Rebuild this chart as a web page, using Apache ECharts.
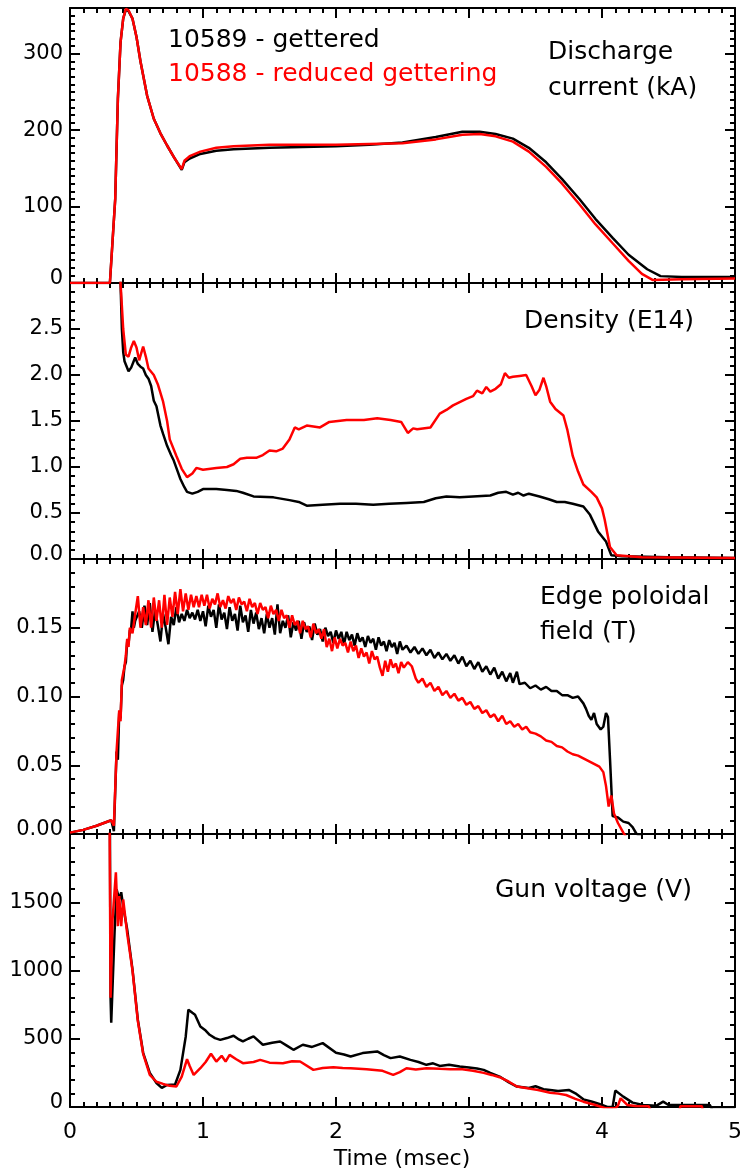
<!DOCTYPE html>
<html><head><meta charset="utf-8">
<script src="https://cdn.jsdelivr.net/npm/echarts@6.0.0/dist/echarts.min.js"></script>
<style>html,body{margin:0;padding:0;background:#fff}#c{width:740px;height:1172px}</style>
</head><body><div id="c"></div>
<script>
// ---- x axis (Time, msec) ----
const timeTicks = [0, 1, 2, 3, 4, 5];

// ---- Panel 1: Discharge current (kA) ----
const currentBlack = [[0,0],[0.30,0],[0.32,55],[0.34,110],[0.36,241],[0.38,315],[0.40,346],[0.42,358],[0.44,356],[0.47,346],[0.50,322],[0.53,290],[0.58,245],[0.63,215],[0.68,196],[0.73,180],[0.78,165],[0.84,148],[0.86,158],[0.90,163],[0.98,169],[1.10,173],[1.23,175],[1.5,177],[1.75,178],[2.0,179],[2.25,181],[2.5,184],[2.75,191],[2.95,198],[3.08,198],[3.2,195],[3.33,189],[3.45,177],[3.58,158],[3.7,136],[3.83,110],[3.95,84],[4.08,59],[4.2,37],[4.34,18],[4.44,9],[4.6,8],[5.0,8]];
const currentRed = [[0,0],[0.30,0],[0.32,55],[0.34,110],[0.36,241],[0.38,315],[0.40,346],[0.42,359],[0.44,357],[0.47,346],[0.50,322],[0.53,290],[0.58,245],[0.63,215],[0.68,196],[0.73,180],[0.78,165],[0.84,149],[0.86,160],[0.90,166],[0.98,172],[1.10,177],[1.23,179],[1.5,181],[1.75,181],[2.0,181],[2.25,182],[2.5,183],[2.75,188],[2.95,194],[3.08,195],[3.2,192],[3.33,185],[3.45,172],[3.58,152],[3.7,130],[3.83,103],[3.95,77],[4.08,52],[4.2,29],[4.3,12],[4.38,4],[4.6,5],[5.0,6]];

// ---- Panel 2: Density (E14) ----
const densityBlack = [[0.37,4],[0.38,3.0],[0.39,2.5],[0.40,2.25],[0.41,2.15],[0.44,2.04],[0.46,2.08],[0.49,2.19],[0.51,2.12],[0.53,2.09],[0.55,2.07],[0.57,2.0],[0.59,1.96],[0.61,1.88],[0.63,1.72],[0.65,1.66],[0.68,1.45],[0.70,1.36],[0.73,1.23],[0.76,1.13],[0.78,1.07],[0.81,0.95],[0.83,0.87],[0.86,0.78],[0.88,0.73],[0.92,0.71],[0.96,0.73],[1.0,0.76],[1.1,0.76],[1.18,0.75],[1.25,0.74],[1.30,0.72],[1.38,0.68],[1.53,0.67],[1.65,0.64],[1.72,0.62],[1.78,0.58],[1.9,0.59],[2.03,0.60],[2.15,0.60],[2.28,0.59],[2.4,0.60],[2.53,0.61],[2.66,0.62],[2.75,0.66],[2.83,0.68],[2.93,0.67],[3.03,0.68],[3.16,0.69],[3.22,0.72],[3.28,0.73],[3.33,0.70],[3.37,0.72],[3.41,0.69],[3.45,0.71],[3.53,0.68],[3.60,0.65],[3.66,0.62],[3.72,0.62],[3.78,0.60],[3.86,0.57],[3.91,0.48],[3.97,0.30],[4.03,0.19],[4.07,0.04],[4.15,0.03],[4.5,0.02],[5.0,0.01]];
const densityRed = [[0.37,4],[0.38,3.0],[0.40,2.5],[0.42,2.22],[0.44,2.2],[0.46,2.3],[0.48,2.37],[0.50,2.3],[0.52,2.16],[0.55,2.31],[0.57,2.2],[0.59,2.07],[0.63,2.0],[0.66,1.9],[0.70,1.71],[0.73,1.5],[0.75,1.30],[0.80,1.12],[0.84,0.98],[0.88,0.89],[0.92,0.93],[0.95,0.99],[1.0,0.97],[1.1,0.99],[1.18,1.0],[1.23,1.03],[1.28,1.09],[1.33,1.10],[1.40,1.10],[1.45,1.13],[1.50,1.18],[1.55,1.17],[1.60,1.20],[1.65,1.30],[1.69,1.43],[1.72,1.41],[1.78,1.45],[1.88,1.43],[1.95,1.49],[2.08,1.51],[2.21,1.51],[2.31,1.53],[2.41,1.51],[2.49,1.49],[2.54,1.37],[2.58,1.42],[2.61,1.41],[2.71,1.43],[2.78,1.58],[2.83,1.62],[2.88,1.67],[2.98,1.74],[3.03,1.77],[3.06,1.83],[3.10,1.80],[3.13,1.87],[3.16,1.82],[3.20,1.85],[3.24,1.90],[3.27,2.02],[3.30,1.97],[3.33,1.98],[3.38,1.99],[3.43,2.0],[3.47,1.88],[3.50,1.78],[3.53,1.84],[3.56,1.97],[3.58,1.88],[3.61,1.71],[3.65,1.63],[3.71,1.56],[3.74,1.40],[3.78,1.12],[3.82,0.95],[3.86,0.81],[3.92,0.73],[3.96,0.67],[4.0,0.55],[4.02,0.43],[4.06,0.13],[4.11,0.04],[4.3,0.02],[5.0,0.01]];

// ---- Panel 3: Edge poloidal field (T) ----
const fieldBlack = [[0,0.001],[0.1,0.003],[0.2,0.006],[0.31,0.010],[0.33,0.002],[0.35,0.060],[0.36,0.054],[0.37,0.088],[0.38,0.084],[0.39,0.108],[0.40,0.112],[0.41,0.122],[0.42,0.125],[0.43,0.140],[0.44,0.138],[0.45,0.148],[0.46,0.150],[0.47,0.162],[0.48,0.150],[0.49,0.155],
[0.50,0.155],[0.52,0.162],[0.54,0.150],[0.56,0.166],[0.58,0.152],[0.60,0.168],[0.62,0.147],[0.64,0.163],[0.66,0.152],[0.68,0.140],[0.70,0.160],[0.72,0.150],[0.74,0.138],[0.76,0.158],[0.78,0.152],[0.80,0.165],[0.82,0.154],[0.84,0.160],[0.86,0.155],[0.88,0.163],[0.90,0.157],[0.92,0.161],[0.94,0.156],[0.96,0.163],[0.98,0.155],
[1.00,0.162],[1.02,0.151],[1.04,0.166],[1.06,0.158],[1.08,0.163],[1.10,0.150],[1.12,0.167],[1.14,0.156],[1.16,0.161],[1.18,0.149],[1.20,0.165],[1.22,0.155],[1.24,0.160],[1.26,0.148],[1.28,0.166],[1.30,0.154],[1.32,0.159],[1.34,0.147],[1.36,0.163],[1.38,0.153],[1.40,0.161],[1.42,0.149],[1.44,0.157],[1.46,0.146],[1.48,0.160],[1.50,0.150],[1.52,0.157],[1.54,0.145],[1.56,0.167],[1.58,0.146],[1.60,0.155],[1.62,0.150],[1.64,0.159],[1.66,0.143],[1.68,0.154],[1.70,0.148],[1.72,0.155],[1.74,0.142],[1.76,0.154],[1.78,0.147],[1.80,0.151],[1.82,0.141],[1.84,0.153],[1.86,0.145],[1.88,0.149],[1.90,0.140],[1.92,0.150],[1.94,0.144],[1.96,0.147],[1.98,0.139],
[2.00,0.148],[2.02,0.142],[2.04,0.147],[2.06,0.138],[2.08,0.147],[2.10,0.141],[2.12,0.145],[2.14,0.137],[2.16,0.146],[2.18,0.140],[2.20,0.143],[2.22,0.136],[2.24,0.144],[2.26,0.139],[2.28,0.142],[2.30,0.134],[2.32,0.143],[2.34,0.137],[2.36,0.140],[2.38,0.133],[2.40,0.141],[2.42,0.136],[2.44,0.139],[2.46,0.131],[2.48,0.140],[2.50,0.134],
[2.53,0.137],[2.56,0.132],[2.59,0.136],[2.62,0.131],[2.65,0.135],[2.68,0.130],[2.71,0.134],[2.74,0.128],[2.77,0.132],[2.80,0.127],[2.83,0.131],[2.86,0.126],[2.89,0.130],[2.92,0.124],[2.95,0.129],[2.98,0.122],[3.01,0.126],[3.04,0.120],[3.07,0.125],[3.10,0.118],[3.13,0.122],[3.16,0.116],[3.19,0.121],[3.22,0.113],[3.25,0.118],[3.28,0.111],[3.31,0.117],[3.33,0.110],[3.36,0.118],[3.38,0.109],[3.42,0.110],[3.46,0.106],[3.50,0.108],[3.54,0.105],[3.58,0.107],[3.62,0.104],[3.66,0.104],[3.70,0.101],[3.74,0.101],[3.78,0.099],[3.82,0.100],[3.86,0.095],[3.88,0.091],[3.90,0.086],[3.92,0.083],[3.94,0.088],[3.96,0.080],[3.99,0.076],[4.01,0.078],[4.03,0.088],[4.045,0.085],[4.06,0.055],[4.08,0.013],[4.12,0.012],[4.16,0.009],[4.20,0.008],[4.23,0.005],[4.26,0.0],[4.30,-0.002]];
const fieldRed = [[0,0.001],[0.1,0.003],[0.2,0.006],[0.31,0.010],[0.33,0.006],[0.35,0.060],[0.37,0.090],[0.38,0.082],[0.39,0.112],[0.41,0.122],[0.42,0.130],[0.43,0.142],[0.44,0.136],[0.45,0.150],[0.47,0.146],[0.49,0.160],[0.51,0.173],[0.53,0.150],[0.55,0.165],[0.57,0.152],[0.59,0.170],[0.61,0.150],[0.63,0.172],[0.65,0.155],[0.67,0.170],[0.69,0.150],[0.71,0.174],[0.73,0.152],[0.75,0.172],[0.77,0.158],[0.79,0.176],[0.81,0.160],[0.83,0.178],[0.85,0.162],[0.87,0.175],[0.89,0.163],[0.91,0.174],[0.93,0.165],[0.95,0.173],[0.97,0.165],[0.99,0.174],
[1.01,0.166],[1.03,0.174],[1.05,0.164],[1.07,0.171],[1.09,0.167],[1.11,0.175],[1.13,0.165],[1.15,0.170],[1.17,0.164],[1.19,0.173],[1.21,0.168],[1.23,0.171],[1.25,0.163],[1.27,0.172],[1.29,0.167],[1.31,0.169],[1.33,0.162],[1.35,0.171],[1.37,0.165],[1.39,0.168],[1.41,0.160],[1.43,0.168],[1.45,0.163],[1.47,0.165],[1.49,0.157],[1.51,0.166],[1.53,0.160],[1.55,0.163],[1.57,0.155],[1.59,0.163],[1.61,0.157],[1.63,0.159],[1.65,0.150],[1.67,0.159],[1.69,0.152],[1.71,0.155],[1.73,0.146],[1.75,0.155],[1.77,0.149],[1.79,0.151],[1.81,0.143],[1.83,0.153],[1.85,0.146],[1.87,0.149],[1.89,0.142],[1.91,0.149],[1.93,0.136],[1.95,0.142],[1.97,0.133],[1.99,0.143],
[2.01,0.135],[2.03,0.142],[2.05,0.137],[2.07,0.139],[2.09,0.132],[2.11,0.140],[2.13,0.133],[2.15,0.137],[2.17,0.128],[2.19,0.135],[2.21,0.129],[2.23,0.132],[2.25,0.124],[2.27,0.133],[2.29,0.127],[2.31,0.129],[2.33,0.121],[2.35,0.115],[2.37,0.126],[2.39,0.118],[2.41,0.127],[2.43,0.121],[2.45,0.124],[2.47,0.117],[2.49,0.125],
[2.51,0.121],[2.54,0.125],[2.57,0.122],[2.60,0.113],[2.62,0.110],[2.65,0.113],[2.68,0.107],[2.71,0.110],[2.74,0.104],[2.77,0.107],[2.80,0.101],[2.83,0.104],[2.86,0.099],[2.89,0.102],[2.92,0.097],[2.95,0.099],[2.98,0.094],
[3.01,0.096],[3.04,0.091],[3.07,0.093],[3.10,0.088],[3.13,0.090],[3.16,0.085],[3.19,0.087],[3.22,0.082],[3.25,0.086],[3.28,0.080],[3.31,0.082],[3.34,0.078],[3.37,0.080],[3.40,0.076],[3.43,0.078],[3.46,0.074],[3.50,0.073],[3.54,0.071],[3.58,0.068],[3.62,0.067],[3.66,0.064],[3.70,0.063],[3.74,0.060],[3.78,0.058],[3.82,0.057],[3.86,0.055],[3.90,0.053],[3.94,0.051],[3.98,0.049],[4.01,0.045],[4.03,0.035],[4.05,0.020],[4.07,0.028],[4.09,0.015],[4.12,0.008],[4.16,0.001],[4.18,-0.002]];

// ---- Panel 4: Gun voltage (V) ----
const voltageBlack = [[0.300,2100],[0.305,800],[0.31,617],[0.335,1279],[0.35,1595],[0.36,1560],[0.37,1521],[0.385,1573],[0.40,1470],[0.43,1301],[0.47,1007],[0.51,640],[0.55,397],[0.60,250],[0.65,176],[0.69,140],[0.73,162],[0.79,165],[0.83,272],[0.87,515],[0.89,713],[0.92,690],[0.94,676],[0.98,590],[1.02,560],[1.05,529],[1.09,505],[1.13,492],[1.18,505],[1.23,522],[1.27,495],[1.30,480],[1.34,500],[1.38,517],[1.45,456],[1.52,470],[1.58,480],[1.63,450],[1.68,419],[1.75,456],[1.82,440],[1.90,468],[2.0,397],[2.06,385],[2.11,370],[2.2,395],[2.31,407],[2.36,380],[2.41,358],[2.48,370],[2.56,345],[2.62,330],[2.68,309],[2.73,320],[2.78,301],[2.85,310],[2.93,296],[3.0,290],[3.06,282],[3.11,272],[3.16,250],[3.23,223],[3.3,180],[3.36,150],[3.45,140],[3.50,152],[3.56,130],[3.61,125],[3.67,118],[3.75,125],[3.80,100],[3.86,56],[3.92,40],[3.98,22],[4.04,0],[4.08,0],[4.10,120],[4.16,76],[4.23,32],[4.31,15],[4.41,10],[4.46,39],[4.50,15],[4.81,15],[4.83,-20],[5.0,-20]];
const voltageRed = [[0.298,2100],[0.305,800],[0.32,1374],[0.345,1720],[0.36,1325],[0.37,1545],[0.385,1325],[0.40,1520],[0.43,1270],[0.47,1000],[0.51,630],[0.55,390],[0.60,235],[0.65,185],[0.70,169],[0.75,155],[0.80,150],[0.84,223],[0.88,350],[0.90,300],[0.93,235],[0.98,284],[1.02,330],[1.06,390],[1.10,333],[1.14,375],[1.17,333],[1.20,382],[1.25,350],[1.30,321],[1.38,330],[1.43,345],[1.5,325],[1.6,321],[1.67,335],[1.73,333],[1.83,272],[1.9,285],[1.98,292],[2.05,285],[2.11,284],[2.23,277],[2.35,265],[2.43,235],[2.48,255],[2.53,284],[2.6,275],[2.68,284],[2.78,280],[2.86,277],[2.95,277],[3.03,265],[3.11,250],[3.17,235],[3.23,218],[3.3,185],[3.36,150],[3.45,135],[3.52,125],[3.61,105],[3.67,98],[3.73,88],[3.8,60],[3.86,39],[3.95,15],[4.03,-10],[4.10,-10],[4.12,10],[4.14,64],[4.19,15],[4.25,8],[4.35,6],[4.37,-30],[4.58,-30],[4.59,6],[4.75,6],[4.76,-30],[5.0,-30]];

// ---- y axis setup per panel: [min, max, interval, minor splits, decimals] ----
const yScales = [[0, 360, 100, 10, 0], [0, 3, 0.5, 5, 1], [0, 0.2, 0.05, 5, 2], [0, 2000, 500, 5, 0]];
const panelSeries = [[currentBlack, currentRed], [densityBlack, densityRed], [fieldBlack, fieldRed], [voltageBlack, voltageRed]];
const legendTexts = ['10589 - gettered', '10588 - reduced gettering'];

const FONT = 'DejaVu Sans';
const gridBoxes = [{top: 8, height: 275}, {top: 283, height: 276}, {top: 559, height: 275}, {top: 834, height: 273}];

const grid = [], xAxis = [], yAxis = [], series = [];
gridBoxes.forEach((g, i) => {
  grid.push({left: 70, right: 5, top: g.top, height: g.height, outerBoundsMode: 'none', containLabel: false});
  const axisCommon = {
    axisLine: {show: true, onZero: false, lineStyle: {color: '#000', width: 2}},
    axisTick: {show: true, inside: true, length: 10, lineStyle: {color: '#000', width: 2}},
    splitLine: {show: false}
  };
  ['bottom', 'top'].forEach(pos => {
    xAxis.push(Object.assign({}, axisCommon, {
      gridIndex: i, type: 'value', position: pos, min: timeTicks[0], max: timeTicks[timeTicks.length - 1], interval: 1,
      minorTick: {show: true, splitNumber: 10, length: 5, lineStyle: {color: '#000', width: 2}},
      axisLabel: {show: (i === 3 && pos === 'bottom'), color: '#000', fontFamily: FONT, fontSize: 22, margin: 14}
    }));
  });
  const ys = yScales[i];
  ['left', 'right'].forEach(pos => {
    yAxis.push(Object.assign({}, axisCommon, {
      gridIndex: i, type: 'value', position: pos, min: ys[0], max: ys[1], interval: ys[2],
      minorTick: {show: true, splitNumber: ys[3], length: 5, lineStyle: {color: '#000', width: 2}},
      axisLabel: {
        show: pos === 'left', showMaxLabel: false, color: '#000', fontFamily: FONT, fontSize: 21, margin: 7,
        formatter: v => { const s = v.toFixed(ys[4]); return v === 0 ? '{z|' + s + '}' : s; },
        rich: {z: {fontFamily: FONT, fontSize: 21, color: '#000', padding: [0, 0, 8, 0]}}
      }
    }));
  });
  const colors = ['#000000', '#ff0000'];
  panelSeries[i].forEach((d, k) => {
    series.push({
      type: 'line', xAxisIndex: 2 * i, yAxisIndex: 2 * i, data: d, showSymbol: false, symbol: 'none',
      clip: true, lineStyle: {color: colors[k], width: 2.5}, itemStyle: {color: colors[k]}, z: 2 + k, silent: true
    });
  });
});

function txt(x, y, s, color) {
  return {type: 'text', style: {x: x, y: y, text: s, fill: color, font: '25px "' + FONT + '"', verticalAlign: 'middle', textVerticalAlign: 'middle'}, z: 100};
}

const option = {
  backgroundColor: '#fff', animation: false,
  grid, xAxis, yAxis, series,
  graphic: [
    txt(168, 40, legendTexts[0], '#000'),
    txt(168, 74, legendTexts[1], '#ff0000'),
    txt(548, 52, 'Discharge', '#000'),
    txt(548, 88, 'current (kA)', '#000'),
    txt(524, 321, 'Density (E14)', '#000'),
    txt(540, 597, 'Edge poloidal', '#000'),
    txt(540, 632, 'field (T)', '#000'),
    txt(495, 890, 'Gun voltage (V)', '#000'),
    {type: 'text', style: {x: 402, y: 1159, text: 'Time (msec)', fill: '#000', font: '22px "' + FONT + '"', align: 'center', textAlign: 'center', verticalAlign: 'middle', textVerticalAlign: 'middle'}, z: 100}
  ]
};
const chart = echarts.init(document.getElementById('c'), null, {renderer: 'canvas'});
chart.setOption(option);
</script></body></html>
